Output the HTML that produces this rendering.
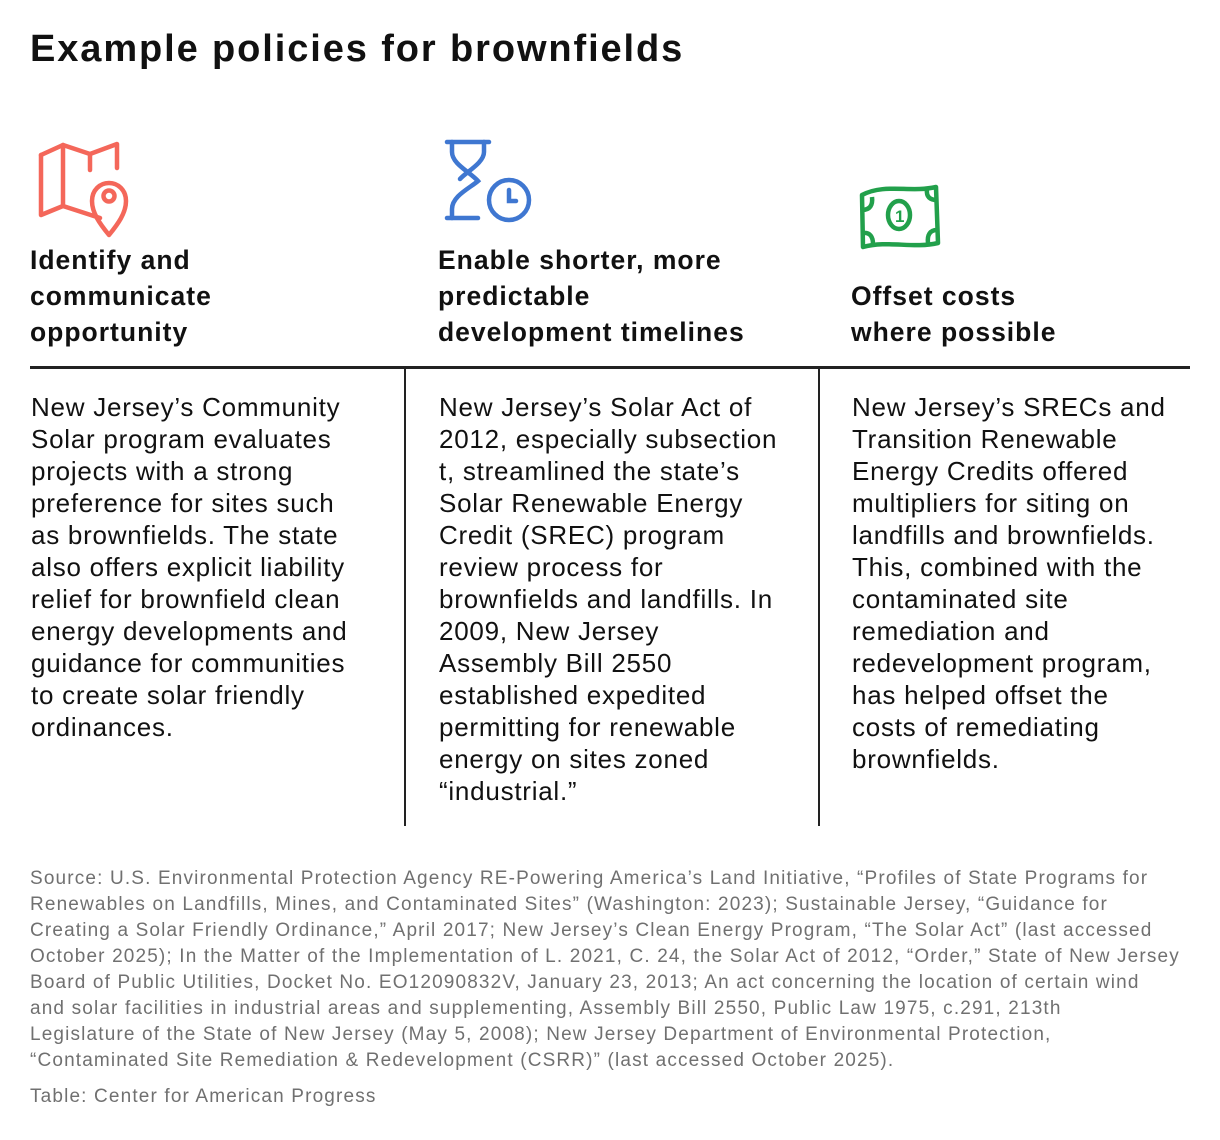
<!DOCTYPE html>
<html><head><meta charset="utf-8"><style>
body{margin:0;background:#fff;width:1220px;height:1140px;position:relative;overflow:hidden;font-family:"Liberation Sans",sans-serif;color:#111;}
.a{position:absolute;white-space:nowrap;}
h1{position:absolute;left:30px;top:28px;margin:0;font-size:38px;font-weight:bold;letter-spacing:1.9px;white-space:nowrap;}
.hd{font-size:26.5px;font-weight:bold;line-height:36px;letter-spacing:1px;}
.bd{font-size:26px;line-height:32px;letter-spacing:0.75px;}
.src{left:30px;top:866px;font-size:19px;line-height:26px;color:#707070;letter-spacing:1.15px;}
</style></head><body>
<h1>Example policies for brownfields</h1>

<svg class="a" style="left:0;top:0" width="1220" height="260">
 <g fill="none" stroke="#f4675a" stroke-width="4.5" stroke-linejoin="round" stroke-linecap="round">
  <path d="M41 155 L41 215 L63 206 L100 218"/>
  <path d="M41 155 L63 145 L90 154 L117 144 V168"/>
  <path d="M63 145 V206"/>
  <path d="M90 154 V170"/>
  <path d="M109 235 C100 224 92 213 92 201 C92 190 100 183 109 183 C118 183 126 190 126 201 C126 213 118 224 109 235 Z"/>
  <circle cx="109" cy="196" r="5.5"/>
 </g>
 <g fill="none" stroke="#3f77d1" stroke-width="4.5" stroke-linecap="round">
  <path d="M447 142 H489"/>
  <path d="M452 142 V152 C452 164 470 172 478 181 C470 188 452 196 452 209 V218"/>
  <path d="M484 142 V152 C484 163 466 172 460 179"/>
  <path d="M447 218 H478"/>
  <circle cx="509" cy="200" r="20"/>
  <path d="M509 190 V201 H516"/>
 </g>
 <g fill="none" stroke="#22a04b" stroke-width="4.5" stroke-linejoin="round">
  <path d="M862 195 C885 183 910 193 936 187 L938 243 C913 249 888 240 863 247 Z"/>
  <ellipse cx="899" cy="215" rx="11" ry="14"/>
  <path d="M862 210 C870 210 873 205 872 197"/>
  <path d="M927 189 C926 197 930 200 937 200"/>
  <path d="M863 233 C870 232 873 237 873 244"/>
  <path d="M937 230 C930 230 927 235 928 243"/>
 </g>
 <text x="895" y="222" font-family="Liberation Sans" font-weight="bold" font-size="17" fill="#22a04b">1</text>
</svg>

<div class="a hd" style="left:30px;top:242px">Identify and<br>communicate<br>opportunity</div>
<div class="a hd" style="left:438px;top:242px">Enable shorter, more<br>predictable<br>development timelines</div>
<div class="a hd" style="left:851px;top:278px">Offset costs<br>where possible</div>

<div class="a" style="left:30px;top:366px;width:1160px;height:3px;background:#222"></div>
<div class="a" style="left:404px;top:369px;width:2px;height:457px;background:#222"></div>
<div class="a" style="left:818px;top:369px;width:2px;height:457px;background:#222"></div>

<div class="a bd" style="left:31px;top:391px">New Jersey’s Community<br>Solar program evaluates<br>projects with a strong<br>preference for sites such<br>as brownfields. The state<br>also offers explicit liability<br>relief for brownfield clean<br>energy developments and<br>guidance for communities<br>to create solar friendly<br>ordinances.</div>
<div class="a bd" style="left:439px;top:391px">New Jersey’s Solar Act of<br>2012, especially subsection<br>t, streamlined the state’s<br>Solar Renewable Energy<br>Credit (SREC) program<br>review process for<br>brownfields and landfills. In<br>2009, New Jersey<br>Assembly Bill 2550<br>established expedited<br>permitting for renewable<br>energy on sites zoned<br>“industrial.”</div>
<div class="a bd" style="left:852px;top:391px">New Jersey’s SRECs and<br>Transition Renewable<br>Energy Credits offered<br>multipliers for siting on<br>landfills and brownfields.<br>This, combined with the<br>contaminated site<br>remediation and<br>redevelopment program,<br>has helped offset the<br>costs of remediating<br>brownfields.</div>

<div class="a src">Source: U.S. Environmental Protection Agency RE-Powering America’s Land Initiative, “Profiles of State Programs for<br>Renewables on Landfills, Mines, and Contaminated Sites” (Washington: 2023); Sustainable Jersey, “Guidance for<br>Creating a Solar Friendly Ordinance,” April 2017; New Jersey’s Clean Energy Program, “The Solar Act” (last accessed<br>October 2025); In the Matter of the Implementation of L. 2021, C. 24, the Solar Act of 2012, “Order,” State of New Jersey<br>Board of Public Utilities, Docket No. EO12090832V, January 23, 2013; An act concerning the location of certain wind<br>and solar facilities in industrial areas and supplementing, Assembly Bill 2550, Public Law 1975, c.291, 213th<br>Legislature of the State of New Jersey (May 5, 2008); New Jersey Department of Environmental Protection,<br>“Contaminated Site Remediation &amp; Redevelopment (CSRR)” (last accessed October 2025).</div>
<div class="a src" style="top:1084px">Table: Center for American Progress</div>
</body></html>
